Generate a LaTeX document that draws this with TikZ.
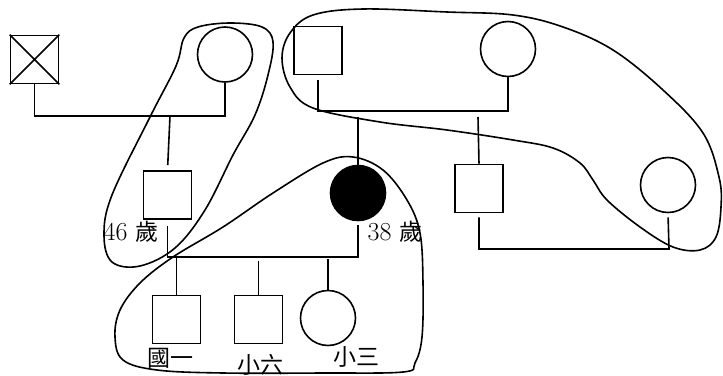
\documentclass[tikz,border=0pt]{standalone}
\usepackage{fontspec}
\newfontfamily\cjk{Noto Sans CJK TC}
\begin{document}
\begin{tikzpicture}[x=1pt,y=-1pt,
  ln/.style={line width=1.6pt},
  sq/.style={draw, line width=1.6pt, minimum size=48pt, inner sep=0pt},
  ci/.style={draw, line width=1.6pt, circle, minimum size=55pt, inner sep=0pt},
  lbl/.style={inner sep=0pt, font=\fontsize{26}{26}\selectfont},
  clbl/.style={inner sep=0pt, font=\fontsize{23}{23}\selectfont\cjk},
  loopline/.style={line width=1.6pt}]
\useasboundingbox (0,0) rectangle (723,375);
% title (cut off at top)
\node[anchor=base east, inner sep=0pt, font=\fontsize{25}{25}\selectfont\cjk] (title) at (78,-2.5) {家系圖};
% people
\node[sq] (gf) at (34.5,59.5) {};
\draw[ln] (gf.north west) -- (gf.south east) (gf.north east) -- (gf.south west);
\node[ci] (gm) at (225,54.5) {};
\node[sq] (f) at (167.5,195) {};
\node[ci, fill=black] (m) at (358,193) {};
\node[sq] (mgf) at (318,50.5) {};
\node[ci] (mgm) at (508,49) {};
\node[sq] (u) at (479,188.5) {};
\node[ci] (ua) at (668,185) {};
\node[sq] (c1) at (176.5,319.5) {};
\node[sq] (c2) at (258.5,319.5) {};
\node[ci] (c3) at (328,318) {};
% paternal grandparents
\coordinate (gpbar) at (170,116);
\draw[ln] (gf.south) |- (gpbar) -| (gm.south);
\draw[ln, shorten >=5pt] (gpbar) -- (f.north);
% maternal grandparents
\coordinate (mgbarL) at (318,111);
\coordinate (mgbarR) at (508,111);
\draw[ln, shorten <=5pt] (mgf.south) -- (mgbarL) -- (mgbarR) -- (mgm.south);
\coordinate (md) at (358,117);
\coordinate (ud) at (478,117);
\draw[ln] (md) -- (m.north);
\draw[ln] (ud) -- (u.north);
% uncle couple
\coordinate (ubL) at (479,249);
\coordinate (ubR) at (669,249);
\draw[ln, shorten <=4pt, shorten >=4pt] (u.south) -- (ubL) -- (ubR) -- (ua.south);
% parents
\coordinate (pbL) at (167.5,257);
\coordinate (pbR) at (358,257);
\draw[ln, shorten <=6pt, shorten >=4pt] (f.south) -- (pbL) -- (pbR) -- (m.south);
\coordinate (cd1) at (176.5,257);
\coordinate (cd2) at (258.5,261);
\coordinate (cd3) at (328,259);
\draw[ln] (cd1) -- (c1.north);
\draw[ln] (cd2) -- (c2.north);
\draw[ln] (cd3) -- (c3.north);
% labels
\node[lbl] (lf) at (131,232) {46 {\cjk\fontsize{23}{23}\selectfont 歲}};
\node[lbl] (lm) at (395,232) {38 {\cjk\fontsize{23}{23}\selectfont 歲}};
\node[clbl] (l1) at (170,358) {國一};
\node[clbl] (l2) at (260,365) {小六};
\node[clbl] (l3) at (356,357) {小三};
% enclosing loops
\draw[loopline] plot[smooth cycle, tension=0.6] coordinates {
 (198,27) (230,23) (262,27) (273,42) (268,75) (255,115) (233,155) (205,210) (175,248)
 (140,266) (112,262) (104,235) (112,195) (150,117) (176,66) (184,38)};
\draw[loopline] plot[smooth cycle, tension=0.6] coordinates {
 (313,15) (363,9) (447,12) (513,15) (563,27) (613,50) (663,90) (703,133)
 (719,177) (721,207) (716,237) (700,250) (673,247) (640,227) (607,200)
 (593,180) (580,163) (553,148) (513,140) (447,130) (380,122) (313,108)
 (290,87) (282,58) (290,33)};
\draw[loopline] plot[smooth cycle, tension=0.6] coordinates {
 (353,157) (383,170) (407,200) (420,233) (423,283) (422,337) (415,363)
 (403,372) (323,373) (223,373) (157,370) (123,360) (115,337) (120,310)
 (140,283) (173,257) (223,227) (273,193) (323,163)};
\end{tikzpicture}
\end{document}
